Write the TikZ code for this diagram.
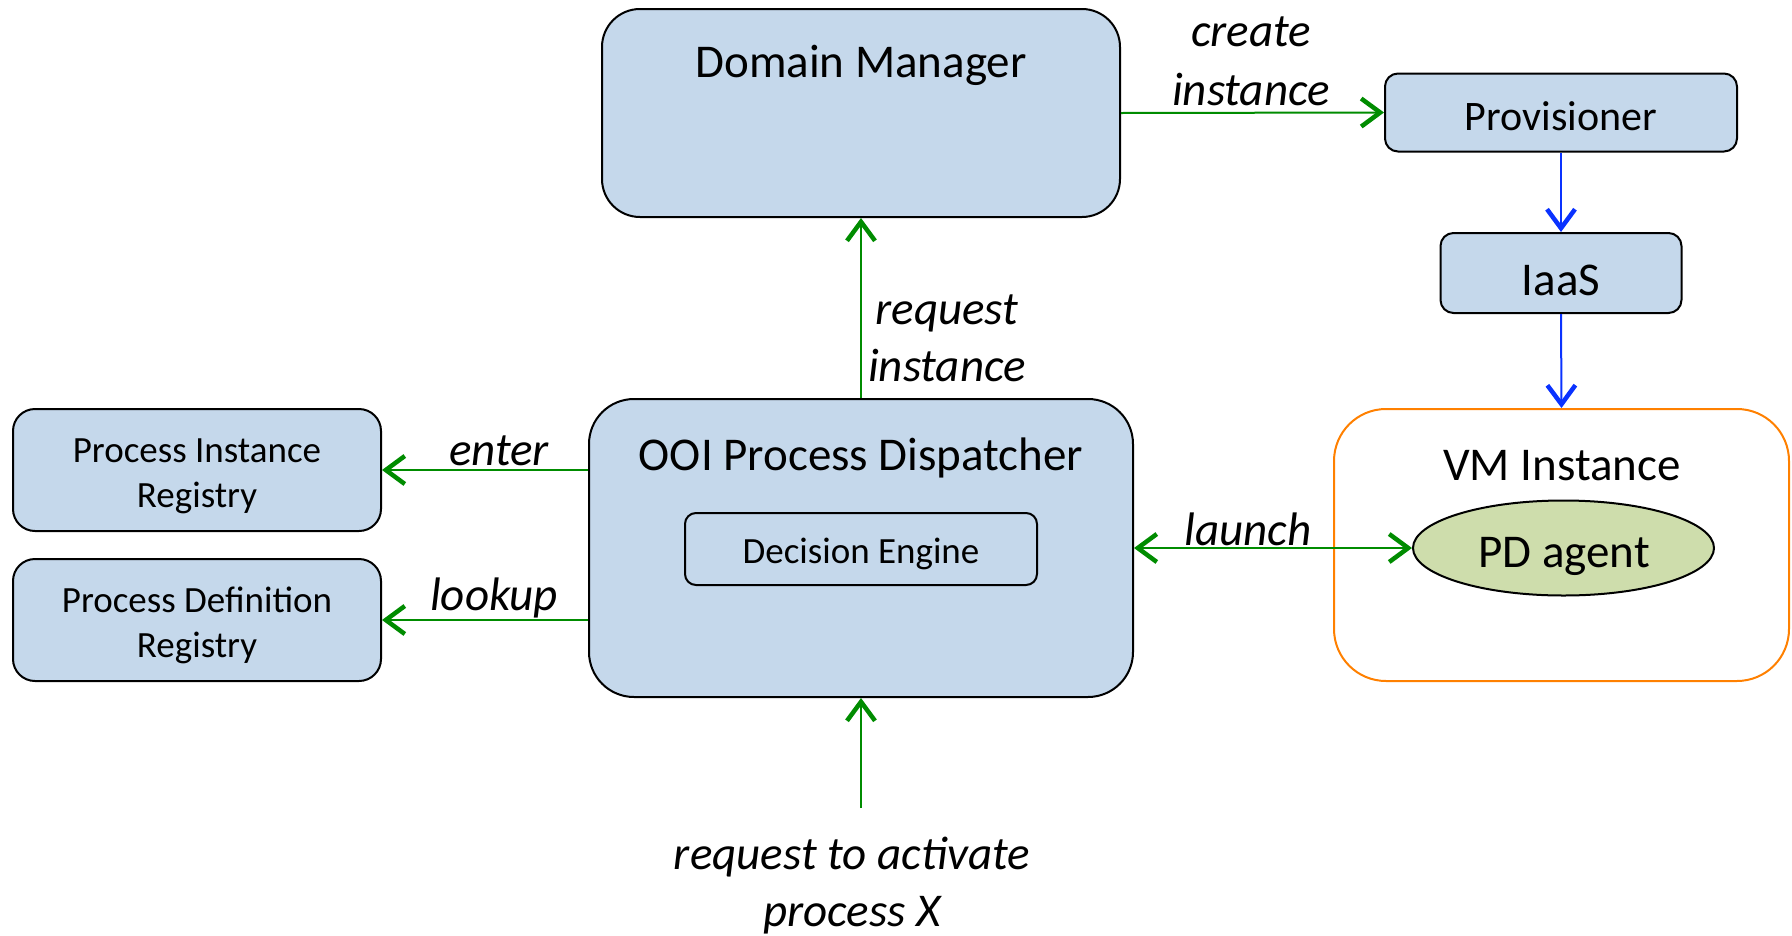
\documentclass[tikz,border=0pt]{standalone}
\usepackage{fontspec}
\setmainfont{Carlito}
\usetikzlibrary{arrows.meta,shapes.geometric}
\definecolor{boxblue}{RGB}{197,216,235}
\definecolor{agentgreen}{RGB}{206,221,172}
\definecolor{arrgreen}{RGB}{0,140,0}
\definecolor{arrblue}{RGB}{10,50,255}
\definecolor{vmorange}{RGB}{255,128,0}
\tikzset{
  box/.style={draw=black, line width=2pt, fill=boxblue, inner sep=0pt, rectangle},
  txtbig/.style={anchor=base, inner sep=0pt, font=\fontsize{47}{58}\selectfont},
  txtmid/.style={anchor=base, inner sep=0pt, font=\fontsize{42}{52}\selectfont},
  txtsmall/.style={anchor=base, inner sep=0pt, font=\fontsize{37}{46}\selectfont},
  lbl/.style={anchor=base, inner sep=0pt, font=\fontsize{47}{58}\selectfont\itshape},
  tipg/.tip={Straight Barb[length=19pt,width=28pt,line width=4.5pt]},
  garrow/.style={draw=arrgreen, line width=2pt, -tipg},
  gdouble/.style={draw=arrgreen, line width=2pt, tipg-tipg},
  barrow/.style={draw=arrblue, line width=2pt, -tipg},
}
\begin{document}
\begin{tikzpicture}[x=1pt,y=-1pt]
\useasboundingbox (0,0) rectangle (1792,935);

% boxes
\node[box, rounded corners=38pt, minimum width=518pt, minimum height=208pt] (DM) at (861,113) {};
\node[box, rounded corners=13pt, minimum width=352pt, minimum height=78pt] (Prov) at (1561,112.5) {};
\node[box, rounded corners=13pt, minimum width=241pt, minimum height=80pt] (IaaS) at (1561,273) {};
\node[draw=vmorange, line width=2pt, rounded corners=52pt, minimum width=455pt, minimum height=272pt, inner sep=0pt] (VM) at (1561.5,545) {};
\node[ellipse, draw=black, line width=2pt, fill=agentgreen, minimum width=301pt, minimum height=95pt, inner sep=0pt] (PD) at (1563.5,548) {};
\node[box, rounded corners=45pt, minimum width=544pt, minimum height=298pt] (OOI) at (861,548) {};
\node[box, rounded corners=11pt, minimum width=352pt, minimum height=72pt] (DE) at (861,549) {};
\node[box, rounded corners=22pt, minimum width=368pt, minimum height=122pt] (PIR) at (197,470) {};
\node[box, rounded corners=22pt, minimum width=368pt, minimum height=122pt] (PDR) at (197,620) {};

% texts in boxes
\node[txtbig] (tDM) at (861,77) {Domain Manager};
\node[txtmid] (tProv) at (1561,130) {Provisioner};
\node[txtbig] (tIaaS) at (1561,295) {IaaS};
\node[txtbig] (tVM) at (1562,480) {VM Instance};
\node[txtbig] (tPD) at (1564,567) {PD agent};
\node[txtbig] (tOOI) at (861,470) {OOI Process Dispatcher};
\node[txtsmall] (tDE) at (861,563) {Decision Engine};
\node[txtsmall] (tPIRa) at (197,462) {Process Instance};
\node[txtsmall] (tPIRb) at (197,507) {Registry};
\node[txtsmall] (tPDRa) at (197,612) {Process Definition};
\node[txtsmall] (tPDRb) at (197,657) {Registry};

% connectors
\coordinate (req) at (861,808);
\draw[garrow] (DM.east) -- (Prov.west);
\draw[barrow] (Prov.south) -- (IaaS.north);
\draw[barrow] (IaaS.south) -- (VM.north);
\draw[garrow] (OOI.north) -- (DM.south);
\draw[garrow] (OOI.west |- PIR.east) -- (PIR.east);
\draw[garrow] (OOI.west |- PDR.east) -- (PDR.east);
\draw[gdouble] (OOI.east) -- (PD.west);
\draw[garrow] (req) -- (OOI.south);

% connector labels
\node[lbl] (lCreateA) at (1251,46) {create};
\node[lbl] (lCreateB) at (1251,105) {instance};
\node[lbl] (lReqA) at (947,324) {request};
\node[lbl] (lReqB) at (947,381) {instance};
\node[lbl] (lEnter) at (499,465) {enter};
\node[lbl] (lLookup) at (494,610) {lookup};
\node[lbl] (lLaunch) at (1248,545) {launch};
\node[lbl] (lActA) at (852,869) {request to activate};
\node[lbl] (lActB) at (852,926) {process X};
\end{tikzpicture}
\end{document}
